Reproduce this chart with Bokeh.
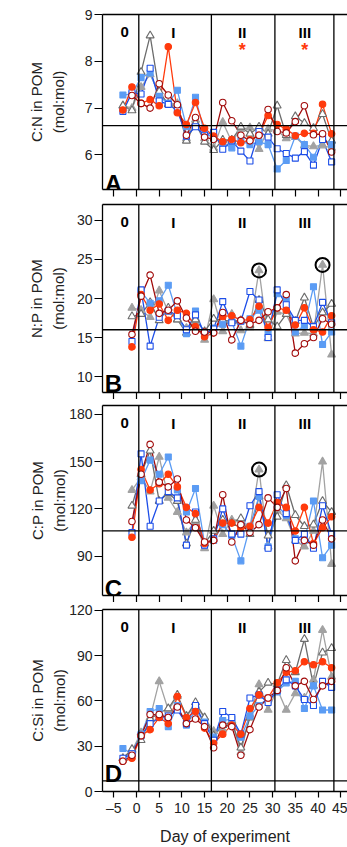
import math
import numpy as np
from bokeh.plotting import figure
from bokeh.models import Range1d, Span, Label, LinearAxis, FixedTicker
from bokeh.layouts import column
from bokeh.embed import file_html
from bokeh.resources import INLINE

# ---------------- data ----------------
days = [-3, -1, 1, 3, 5, 7, 9, 11, 13, 15, 17, 19, 21, 23, 25, 27, 29, 31, 33, 35, 37, 39, 41, 43]
x_ticks = [-5, 0, 5, 10, 15, 20, 25, 30, 35, 40, 45]
phase_bounds = [0.5, 16.5, 30.5, 43.5]
phase_names = ["0", "I", "II", "III"]
phase_days = [-2.6, 8.1, 23.3, 37.1]
star_days = [23.3, 37.1]
star_value = [8.24, 8.24]

# Panel A: C:N
LB_A = [7.28, 7.30, 7.65, 7.75, 7.25, 7.10, 7.38, 6.60, 7.23, 6.45, 6.38, 6.25, 6.15, 6.30, 6.22, 6.28, 6.22, 5.70, 5.88, 6.40, 6.22, 5.95, 6.35, 6.22]
BL_A = [6.93, 7.33, 7.30, 7.85, 7.15, 7.08, 6.95, 6.40, 6.60, 6.42, 6.48, 6.12, 6.30, 6.08, 5.87, 6.50, 6.38, 6.13, 6.03, 5.93, 6.07, 5.78, 6.33, 5.85]
OR_A = [6.96, 7.45, 7.10, 7.18, 7.05, 8.31, 6.90, 6.65, 7.12, 6.57, 6.40, 6.28, 6.33, 6.26, 6.32, 6.42, 6.84, 6.65, 6.55, 6.41, 6.46, 6.46, 7.08, 6.45]
DR_A = [None, 7.27, 7.10, 7.00, 7.52, 7.28, 7.07, 6.42, 6.80, 6.38, 6.33, 7.12, 6.73, 6.42, 6.30, 6.42, 6.97, 6.50, 6.47, 6.71, 7.05, 6.43, 6.45, 6.06]
GF_A = [7.05, 7.00, 7.45, 7.72, 7.30, 7.10, 7.10, 6.35, 6.75, 6.35, 6.15, 6.70, 6.28, 6.55, 6.58, 6.12, 6.55, 6.52, 6.35, 6.38, 6.20, 6.18, 6.20, 6.15]
GO_A = [7.05, 6.95, 7.77, 8.55, 7.35, 7.08, 7.05, 6.30, 6.68, 6.28, 6.10, 6.32, 6.32, 6.60, 6.45, 6.60, 6.45, 7.05, 6.42, 6.82, 6.68, 6.57, 6.87, 6.30]

# Panel B: N:P
LB_B = [None, None, 20.9, 19.4, 19.7, 21.7, 17.9, 15.5, 18.4, 15.3, 16.2, 16.7, 17.0, 13.9, 17.4, 18.5, 15.5, 20.6, 19.9, 15.7, 16.5, 21.5, 14.1, 15.7]
BL_B = [None, 14.5, 21.1, 13.9, 17.6, 18.4, 17.8, 16.0, 17.9, 15.5, 16.1, 19.6, 16.9, 17.1, 20.9, 19.8, 15.0, 21.1, 19.2, 17.2, 17.2, 16.4, 19.5, 16.9]
OR_B = [None, 13.8, 20.5, 18.5, 19.3, 17.2, 18.5, 18.1, 16.4, 15.1, 15.6, 17.7, 17.8, 17.2, 17.3, 19.0, 16.3, 18.8, 18.5, 16.6, 18.8, 16.0, 15.7, 17.8]
DR_B = [None, 15.4, 20.3, 23.0, 18.1, 18.5, 19.7, 17.5, 15.8, 15.7, 15.6, 18.2, 14.7, 17.2, 16.7, 17.2, 18.3, 18.8, 20.5, 13.0, 14.2, 15.0, 17.4, 16.7]
GF_B = [None, 18.8, 18.5, 17.6, 21.0, 18.3, 17.3, 16.2, 17.1, 14.7, 19.9, 15.8, 18.0, 15.9, 16.3, 23.6, 14.9, 18.3, 18.0, 15.5, 15.6, 15.5, 24.3, 12.8]
GO_B = [None, 17.7, 18.0, 19.5, 17.2, 18.8, 17.3, 15.6, 17.3, 15.8, 17.4, 17.2, 17.1, 17.2, 16.6, 19.8, 17.3, 16.4, 18.0, 17.1, 20.1, 16.3, 18.2, 19.3]

# Panel C: C:P
LB_C = [None, None, 138, 151, 142, 153, 132, 118, 133, 98, 100, 110, 103, 87, 109, 128, 96, 122, 116, 101, 100, 125, 89, 97]
BL_C = [None, 105, 155, 109, 125, 131, 127, 97, 118, 97, 101, 120, 104, 104, 122, 131, 95, 129, 117, 100, 104, 95, 122, 104]
OR_C = [None, 102, 145, 132, 136, 142, 134, 121, 117, 98, 100, 111, 111, 108, 109, 121, 111, 124, 121, 106, 121, 98, 108, 115]
DR_C = [None, 112, 142, 161, 137, 134, 139, 113, 108, 99, 100, 129, 99, 110, 105, 110, 127, 121, 133, 87, 100, 97, 113, 101]
GF_C = [None, 132, 140, 131, 153, 127, 118, 105, 112, 95, 122, 104, 113, 113, 108, 145, 96, 119, 114, 100, 96, 106, 150, 85]
GO_C = [None, 122, 142, 157, 125, 130, 125, 98, 113, 98, 106, 113, 111, 114, 104, 128, 103, 115, 135, 116, 109, 110, 125, 118]

# Panel D: C:Si
LB_D = [28.5, 25, 38, 53, 55, 43, 57, 44, 54, 46, 36, 47, 48, 36, 50, 57, 62, 66, 72, 73, 55, 70, 54, 54]
BL_D = [22, 25, 37, 45, 49, 50, 54, 45, 57, 45, 34, 53, 49, 38, 62, 64, 59, 67, 74, 70, 61, 57, 73, 69]
OR_D = [20, 22, 37, 41, 49, 45, 63, 49, 53, 42, 32, 38, 44, 38, 55, 64, 62, 72, 79, 80, 86, 84, 86, 82]
DR_D = [20, 24, 37, 51, 51, 49, 56, 45, 48, 43, 29, 44, 43, 24, 41, 56, 62, 67, 82, 70, 73, 61, 70, 73]
GF_D = [22, 27, 39, 49, 73, 54, 63, 50, 57, 49, 40, 41, 47, 26, 51, 71, 54, 68, 54, 65, 62, 74, 107, 76]
GO_D = [22, 28, 34, 48, 52, 55, 64, 50, 59, 49, 37, 44, 46, 29, 49, 66, 72, 71, 87, 79, 101, 70, 92, 95]

# outlier rings
ring_B_days = [27, 41]
ring_B_vals = [23.6, 24.3]
ring_C_days = [27]
ring_C_vals = [145]

# reference (Redfield) lines
ref_A, ref_B, ref_C, ref_D = 6.625, 16.0, 106.0, 7.07

# ---------------- styling ----------------
FONT = "Liberation Sans"
C_LB, C_BL, C_OR, C_DR, C_GF, C_GO = "#5b9cf4", "#1d4ee8", "#ff3a0c", "#a10b0b", "#a2a2a2", "#6c6c6c"
XLO, XHI = -7.5, 46.5
W = 347
LEFT = 102


def arr(v):
    return np.array([np.nan if a is None else a for a in v], dtype=float)


def panel(series, ylo, yhi, yticks, fh, bt, bb, ref, title, letter, letter_off, lab_standoff, last=False):
    p = figure(width=W, height=fh + bt + bb, min_border_left=LEFT, min_border_right=0,
               min_border_top=bt, min_border_bottom=bb,
               x_range=Range1d(XLO, XHI), y_range=Range1d(ylo, yhi),
               output_backend="svg", toolbar_location=None, tools="")
    p.outline_line_color = None
    p.grid.visible = False
    p.background_fill_color = "white"
    ppu = fh / (yhi - ylo)

    # x axis
    xa = p.xaxis[0]
    xa.axis_line_width = 1.3
    xa.axis_line_color = "black"
    if last:
        xa.ticker = FixedTicker(ticks=x_ticks)
        xa.major_tick_out = 6
        xa.major_tick_in = 0
        xa.minor_tick_out = 0
        xa.minor_tick_in = 0
        xa.major_tick_line_width = 1.2
        xa.major_label_text_font = FONT
        xa.major_label_text_font_size = "14px"
        xa.major_label_text_color = "#222222"
        xa.major_label_standoff = 2
        xa.major_label_overrides = {-5: "\u20135"}
        xa.axis_label = "Day of experiment"
        xa.axis_label_text_font = FONT
        xa.axis_label_text_font_size = "16px"
        xa.axis_label_text_font_style = "normal"
        xa.axis_label_text_color = "#222222"
        xa.axis_label_standoff = 9
    else:
        # tick marks only, no labels: use minor ticks
        xa.ticker = FixedTicker(ticks=[], minor_ticks=x_ticks)
        xa.minor_tick_out = 7
        xa.minor_tick_in = 0
        xa.minor_tick_line_color = "black"
        xa.minor_tick_line_width = 1.2
        xa.major_tick_out = 0
        xa.major_tick_in = 0
        xa.major_label_standoff = 0

    # y axis
    ya = p.yaxis[0]
    ya.ticker = FixedTicker(ticks=yticks)
    ya.axis_line_width = 1.3
    ya.axis_line_color = "black"
    ya.major_tick_out = 8
    ya.major_tick_in = 0
    ya.minor_tick_out = 0
    ya.minor_tick_in = 0
    ya.major_tick_line_width = 1.2
    ya.major_label_text_font = FONT
    ya.major_label_text_font_size = "14px"
    ya.major_label_text_color = "#222222"
    ya.major_label_standoff = 2
    ya.axis_label = title + "\n(mol:mol)"
    ya.axis_label_text_font = FONT
    ya.axis_label_text_font_size = "15px"
    ya.axis_label_text_font_style = "normal"
    ya.axis_label_text_color = "#222222"
    ya.axis_label_text_line_height = 1.3
    ya.axis_label_standoff = lab_standoff

    top = LinearAxis(ticker=FixedTicker(ticks=[]),
                     major_tick_out=0, major_tick_in=0, minor_tick_out=0, minor_tick_in=0,
                     major_label_standoff=0, axis_line_width=1.3, axis_line_color="black")
    p.add_layout(top, "above")

    # reference lines
    p.add_layout(Span(location=ref, dimension="width", line_color="black", line_width=1.3))
    for b in phase_bounds:
        p.add_layout(Span(location=b, dimension="height", line_color="black", line_width=1.3))

    # data series
    lb, bl, orr, dr, gf, go = [arr(s) for s in series]
    x = np.array(days, dtype=float)
    specs = [
        (gf, C_GF, "triangle", C_GF, 8),
        (go, C_GO, "triangle", "white", 8),
        (lb, C_LB, "square", C_LB, 6),
        (bl, C_BL, "square", "white", 6),
        (orr, C_OR, "circle", C_OR, 6.5),
        (dr, C_DR, "circle", "white", 6.5),
    ]
    for y, col, mk, fill, sz in specs:
        p.line(x, y, line_color=col, line_width=1.3)
    for y, col, mk, fill, sz in specs:
        p.scatter(x, y, marker=mk, size=sz, line_color=col, fill_color=fill, line_width=1.1)

    # phase labels
    for name, d in zip(phase_names, phase_days):
        p.add_layout(Label(x=d, y=yhi - 17.7 / ppu, text=name, text_align="center",
                           text_baseline="middle", text_font=FONT, text_font_size="15px",
                           text_font_style="bold", text_color="black"))
    # panel letter
    p.add_layout(Label(x=-7.0, y=ylo + letter_off / ppu, text=letter, text_align="left",
                       text_baseline="alphabetic", text_font=FONT, text_font_size="24px",
                       text_font_style="bold", text_color="black"))
    return p


pA = panel([LB_A, BL_A, OR_A, DR_A, GF_A, GO_A], 5.26, 9.0, [6, 7, 8, 9], 175, 14, 8, ref_A,
           "C:N in POM", "A", 6, 15)
for d, v in zip(star_days, star_value):
    pA.add_layout(Label(x=d, y=v, text="*", text_align="center", text_baseline="middle",
                        text_font=FONT, text_font_size="18px", text_font_style="bold",
                        text_color=C_OR))

pB = panel([LB_B, BL_B, OR_B, DR_B, GF_B, GO_B], 7.96, 32.04, [10, 15, 20, 25, 30], 189, 7, 6, ref_B,
           "N:P in POM", "B", 9, 7)
pB.scatter(ring_B_days, ring_B_vals, marker="circle", size=14, fill_color=None,
           line_color="black", line_width=2)

pC = panel([LB_C, BL_C, OR_C, DR_C, GF_C, GO_C], 65, 185.7, [90, 120, 150, 180], 190, 6, 7, ref_C,
           "C:P in POM", "C", 7, -2)
pC.scatter(ring_C_days, ring_C_vals, marker="circle", size=14, fill_color=None,
           line_color="black", line_width=2)

pD = panel([LB_D, BL_D, OR_D, DR_D, GF_D, GO_D], 0, 120.6, [0, 30, 60, 90, 120], 184, 7, 54, ref_D,
           "C:Si in POM", "D", 18, -2, last=True)

layout = column(pA, pB, pC, pD, spacing=0)
open("out.html", "w").write(file_html(layout, INLINE))
